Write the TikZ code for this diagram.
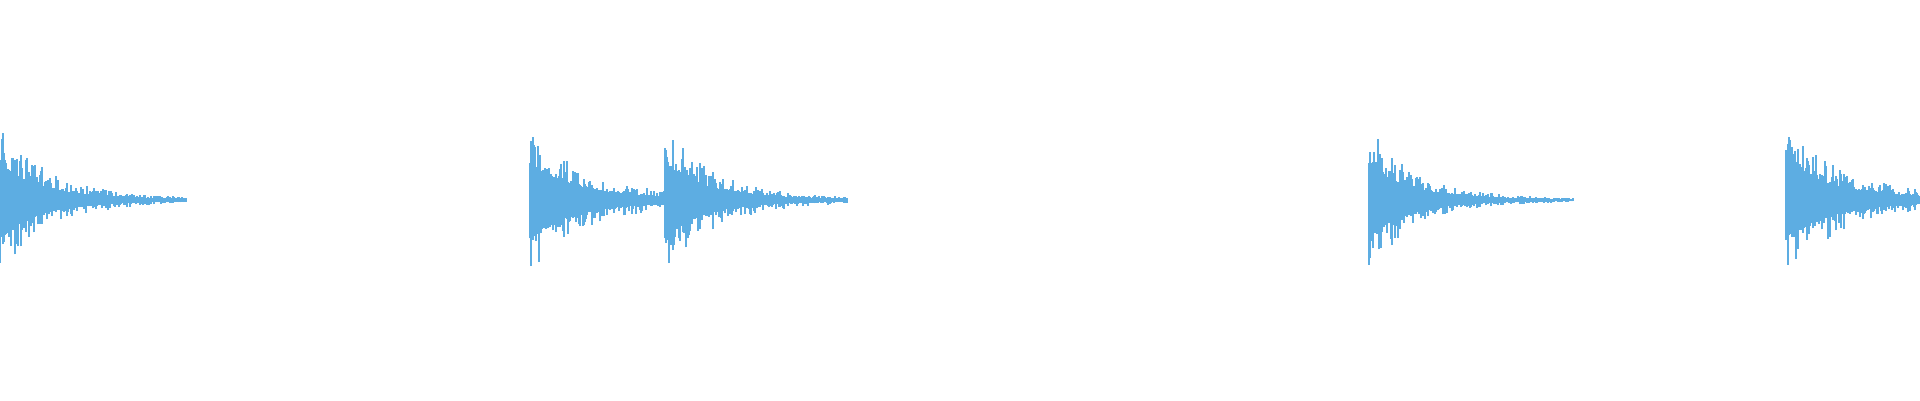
\documentclass[tikz,border=0pt]{standalone}
\definecolor{wave}{RGB}{93,173,226}
\newcommand\wburst[3]{% start(px) length(px) tau
  \foreach \i in {0,...,#2}{%
    \pgfmathsetmacro\env{exp(-\i/#3)}%
    \pgfmathsetmacro\amp{0.55*\env*(0.3+0.7*rnd^3)+0.2*\env*\env+0.008}%
    \pgfmathsetmacro\bmp{0.55*\env*(0.3+0.7*rnd^3)+0.2*\env*\env+0.008}%
    \pgfmathsetmacro\xx{(#1+\i)/100}%
    \draw[wavestroke] (\xx,2-\amp) -- (\xx,2+\bmp);
  }%
}
\begin{document}
\begin{tikzpicture}[wavestroke/.style={draw=wave,line width=0.4pt}]
\pgfmathsetseed{7}
\useasboundingbox (0,0) rectangle (19.2,4);
\wburst{0}{186}{60}
\wburst{530}{136}{70}
\wburst{665}{182}{60}
\wburst{1369}{204}{55}
\wburst{1786}{134}{75}
\end{tikzpicture}
\end{document}
